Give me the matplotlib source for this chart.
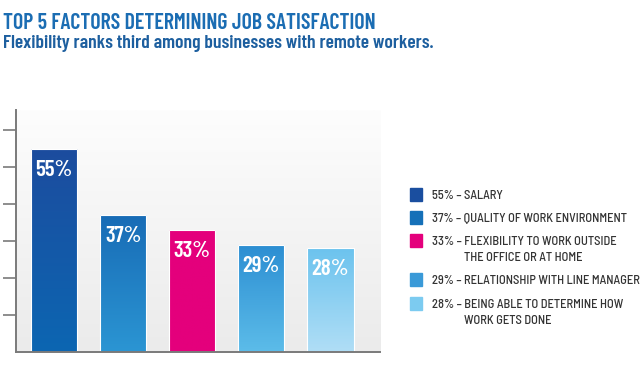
import numpy as np
import matplotlib
matplotlib.use("Agg")
import matplotlib.pyplot as plt
from matplotlib.colors import LinearSegmentedColormap

# Data
values = [55, 37, 33, 29, 28]
labels = ["55%", "37%", "33%", "29%", "28%"]
legend_first = [
    "55% \u2013 SALARY",
    "37% \u2013 QUALITY OF WORK ENVIRONMENT",
    "33% \u2013 FLEXIBILITY TO WORK OUTSIDE",
    "29% \u2013 RELATIONSHIP WITH LINE MANAGER",
    "28% \u2013 BEING ABLE TO DETERMINE HOW",
]
legend_second = ["", "", "THE OFFICE OR AT HOME", "", "WORK GETS DONE"]
top_colors = ["#1c4c9e", "#186cb6", "#e4007c", "#2c8ed2", "#6cc3ee"]
bottom_colors = ["#0c66b2", "#2b95d3", "#e4007c", "#5cbce9", "#b0def6"]
legend_colors = ["#1a4e9f", "#1570b8", "#e4007c", "#3a9ad8", "#7ccbf0"]

semi = ["Barlow Semi Condensed", "DejaVu Sans"]
cond = ["Barlow Condensed", "DejaVu Sans"]

fig = plt.figure(figsize=(6.4, 3.67), dpi=100)
fig.patch.set_facecolor("white")

ax = fig.add_axes([0.025, 0.041, 0.569, 0.659])
x = np.arange(len(values))

# background gradient
bg = LinearSegmentedColormap.from_list("bg", ["#ebebeb", "#fdfdfd"])
ax.imshow(np.linspace(0, 1, 100).reshape(-1, 1), cmap=bg, origin="lower",
          extent=[-0.55, 4.72, 0, 65.4], aspect="auto", zorder=0)

bars = ax.bar(x, values, width=0.67, color="none", edgecolor="white", linewidth=0.8, zorder=2)
for b, c1, c2, lab in zip(bars, top_colors, bottom_colors, labels):
    cm = LinearSegmentedColormap.from_list("g", [c2, c1])
    x0, w, h = b.get_x(), b.get_width(), b.get_height()
    im = ax.imshow(np.linspace(0, 1, 100).reshape(-1, 1), cmap=cm, origin="lower",
                   extent=[x0, x0 + w, 0, h], aspect="auto", zorder=1)
    im.set_clip_path(b)
    ax.annotate(lab, (x0 + w / 2, h), xytext=(0, -19.5), textcoords="offset points",
                ha="center", va="baseline", color="white", fontsize=16.5,
                fontweight="semibold", family=cond, zorder=3)

ax.set_xlim(-0.55, 4.72)
ax.set_ylim(0, 65.4)

for s in ["top", "right"]:
    ax.spines[s].set_visible(False)
for s in ["left", "bottom"]:
    ax.spines[s].set_color("#7a7a7a")
    ax.spines[s].set_linewidth(1.4)
ax.set_xticks([])
ax.set_yticks([10, 20, 30, 40, 50, 60])
ax.set_yticklabels([])
ax.tick_params(axis="y", direction="out", length=9.5, width=1.2, color="#7a7a7a")

# titles
fig.text(3 / 640, 1 - 29 / 367, "TOP 5 FACTORS DETERMINING JOB SATISFACTION", color="#1b6db3",
         fontsize=15.8, fontweight="semibold", ha="left", va="baseline", family=cond)
fig.text(3 / 640, 1 - 48 / 367, "Flexibility ranks third among businesses with remote workers.",
         color="#1d5f9f", fontsize=14, fontweight="semibold", ha="left", va="baseline", family=cond)

# legend
base_y = [199, 222, 245, 284, 308]
for yy, c, t1, t2 in zip(base_y, legend_colors, legend_first, legend_second):
    fig.patches.append(plt.Rectangle((410 / 640, 1 - (yy + 2) / 367), 12 / 640, 13 / 367,
                                     transform=fig.transFigure, color=c, figure=fig))
    fig.text(432 / 640, 1 - yy / 367, t1, color="#333333", fontsize=9,
             fontweight="medium", ha="left", va="baseline", family=semi)
    if t2:
        fig.text(464 / 640, 1 - (yy + 16) / 367, t2, color="#333333", fontsize=9,
                 fontweight="medium", ha="left", va="baseline", family=semi)

fig.savefig("out.png", dpi=100)
